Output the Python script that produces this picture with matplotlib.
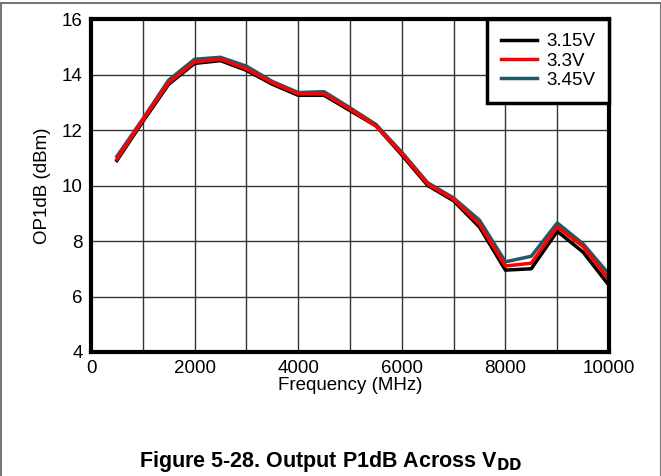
import matplotlib.pyplot as plt
from matplotlib.lines import Line2D

freq = [500, 1000, 1500, 2000, 2500, 3000, 3500, 4000, 4500, 5000,
        5500, 6000, 6500, 7000, 7500, 8000, 8500, 9000, 9500, 10000]
op_315 = [10.9, 12.3, 13.65, 14.4, 14.5, 14.15, 13.65, 13.25, 13.25, 12.7,
          12.15, 11.1, 10.0, 9.45, 8.5, 6.95, 7.0, 8.35, 7.6, 6.4]
op_33 = [10.95, 12.35, 13.7, 14.45, 14.55, 14.2, 13.7, 13.3, 13.3, 12.75,
         12.15, 11.15, 10.05, 9.5, 8.6, 7.1, 7.2, 8.5, 7.8, 6.6]
op_345 = [11.05, 12.4, 13.8, 14.55, 14.62, 14.3, 13.75, 13.35, 13.38, 12.8,
          12.2, 11.2, 10.1, 9.55, 8.75, 7.25, 7.45, 8.65, 7.9, 6.8]
labels = ["3.15V", "3.3V", "3.45V"]
colors = ["black", "#ff0000", "#1f5a66"]

plt.rcParams['font.family'] = ['Liberation Sans', 'DejaVu Sans']

fig = plt.figure(figsize=(6.61, 4.76), dpi=100)
ax = fig.add_axes([91 / 661, 1 - 352 / 476, 518 / 661, 333 / 476])

for ys, lab, c in zip([op_345, op_315, op_33], [labels[2], labels[0], labels[1]],
                      [colors[2], colors[0], colors[1]]):
    ax.plot(freq, ys, color=c, lw=2.5, label=lab)

ax.set_xlim(0, 10000)
ax.set_ylim(4, 16)
ax.set_xticks(range(0, 10001, 2000))
ax.set_xticks(range(0, 10001, 1000), minor=True)
ax.set_yticks(range(4, 17, 2))
ax.set_yticks(range(4, 17, 2), minor=True)
ax.grid(which="both", color="#333333", lw=1)
ax.tick_params(which="both", length=0, labelsize=13.5, pad=6)
for s in ax.spines.values():
    s.set_linewidth(3)

ax.set_xlabel("Frequency (MHz)", fontsize=13.5, labelpad=0)
ax.set_ylabel("OP1dB (dBm)", fontsize=13.5, labelpad=8)

handles = [Line2D([], [], color=c, lw=2.5) for c in colors]
leg = ax.legend(handles, labels, loc="upper right", fontsize=13.5, fancybox=False,
                framealpha=1, edgecolor="black", borderaxespad=0.0,
                handlelength=1.9, handletextpad=0.5, labelspacing=0.12,
                borderpad=0.75)
leg.get_frame().set_linewidth(2.5)

fig.text(0.5, 1 - 462 / 476, r"Figure 5-28. Output P1dB Across V$_{\mathbf{DD}}$",
         ha="center", va="center", fontsize=15.5, fontweight="bold",
         family=['Liberation Sans Narrow', 'Liberation Sans', 'DejaVu Sans'])

fig.add_artist(Line2D([0, 1], [1 - 3 / 476, 1 - 3 / 476], color="#777777", lw=1.5))
fig.add_artist(Line2D([0.5 / 661, 0.5 / 661], [0, 1 - 3 / 476], color="#777777", lw=1.5))
fig.add_artist(Line2D([660.5 / 661, 660.5 / 661], [0, 1 - 3 / 476], color="#777777", lw=1.5))

fig.savefig("out.png")
